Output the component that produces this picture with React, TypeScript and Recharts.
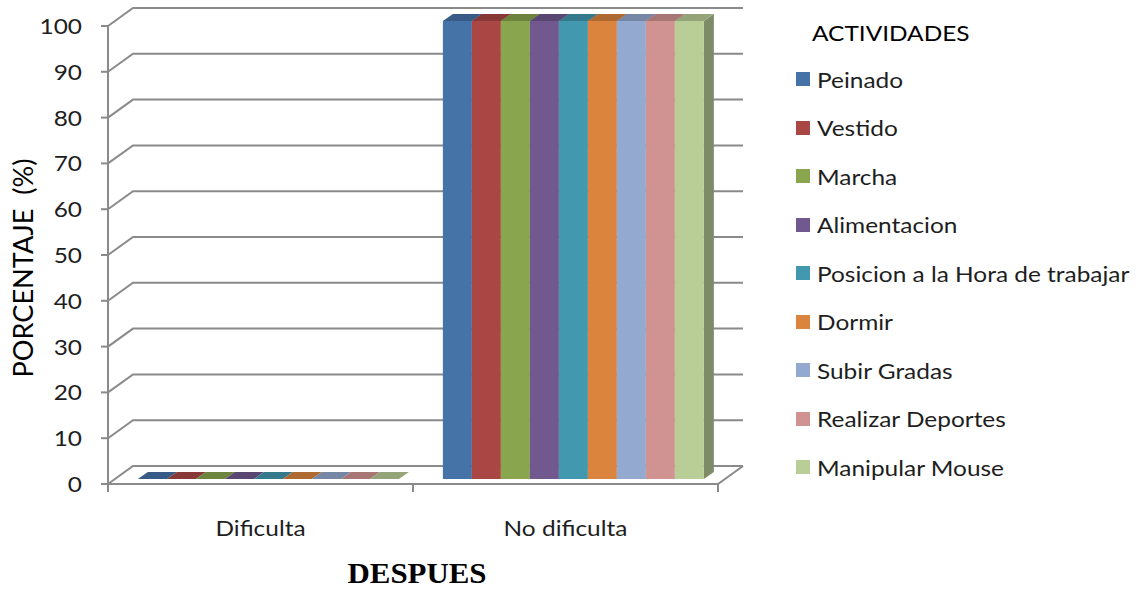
import { BarChart, Bar, XAxis, YAxis, CartesianGrid, Legend, Customized } from 'recharts';

const categories = ['Dificulta', 'No dificulta'];
const activities = [
  'Peinado',
  'Vestido',
  'Marcha',
  'Alimentacion',
  'Posicion a la Hora de trabajar',
  'Dormir',
  'Subir Gradas',
  'Realizar Deportes',
  'Manipular Mouse',
];
const dificulta = [0, 0, 0, 0, 0, 0, 0, 0, 0];
const noDificulta = [100, 100, 100, 100, 100, 100, 100, 100, 100];
const colors = ['#4572A7', '#AA4643', '#89A54E', '#71588F', '#4198AF', '#DB843D', '#93A9CF', '#D19392', '#B9CD96'];
const yTicks = [0, 10, 20, 30, 40, 50, 60, 70, 80, 90, 100];

const seriesByCategory = [dificulta, noDificulta];
const data = categories.map((name, ci) => {
  const row: Record<string, string | number> = { name };
  activities.forEach((a, i) => {
    row[a] = seriesByCategory[ci][i];
  });
  return row;
});

// layout
const W = 1147;
const H = 591;
const MARGIN = { top: 26, right: 429, left: 0, bottom: 0 };
const Y_AXIS_W = 108;
const X_AXIS_H = 107;
const PLOT_BOTTOM = H - MARGIN.bottom - X_AXIS_H;
const PLOT_RIGHT = W - MARGIN.right;
const BAND = (PLOT_RIGHT - (MARGIN.left + Y_AXIS_W)) / categories.length;

// fake 3D: wall depth and bar depth
const DEPTH_X = 25;
const DEPTH_Y = 18;
const BAR_DX = 7;
const BAR_DY = 5;
const BX = 10;
const BY = 7;

const GRID = '#8a8a8a';
const FONT = 'Lato, "Open Sans", sans-serif';
const FONT_SIZE = 22;
const WIDE = 1.11; // text is drawn a little wider than the font's own width
const TEXT = '#1e1e1e';

function shade(hex: string, f: number) {
  const n = parseInt(hex.slice(1), 16);
  const r = Math.round(((n >> 16) & 255) * f);
  const g = Math.round(((n >> 8) & 255) * f);
  const b = Math.round((n & 255) * f);
  return `rgb(${r},${g},${b})`;
}

function Bar3D(props: any) {
  const { x, y, width, height, fill } = props;
  const fx = x + BAR_DX;
  const fy = y - BAR_DY;
  const h = Math.max(0, height);
  const top = `M${fx},${fy} L${fx + BX},${fy - BY} L${fx + width + BX},${fy - BY} L${fx + width},${fy} Z`;
  const side = `M${fx + width},${fy} L${fx + width + BX},${fy - BY} L${fx + width + BX},${fy + h - BY} L${fx + width},${fy + h} Z`;
  return (
    <g>
      <path d={side} fill={shade(fill, 0.68)} />
      <rect x={fx} y={fy} width={width} height={h} fill={fill} />
      <path d={top} fill={shade(fill, 0.8)} />
    </g>
  );
}

function gridLine(p: any) {
  const { x1, x2, y1 } = p;
  const isFloor = Math.abs(y1 - PLOT_BOTTOM) < 1;
  let d = `M${x1},${y1} L${x1 + DEPTH_X},${y1 - DEPTH_Y} L${x2 + DEPTH_X},${y1 - DEPTH_Y}`;
  if (isFloor) d += ` M${x1},${y1} L${x2},${y1} L${x2 + DEPTH_X},${y1 - DEPTH_Y}`;
  return <path key={`grid-${y1}`} d={d} stroke={GRID} strokeWidth={2} fill="none" />;
}

function ValueTick(p: any) {
  const { x, y, payload } = p;
  return (
    <text
      transform={`translate(${x},${y}) scale(${WIDE},1)`}
      dy="0.36em"
      textAnchor="end"
      fontSize={FONT_SIZE}
      fontFamily={FONT}
      fill={TEXT}
    >
      {payload.value}
    </text>
  );
}

function CategoryTick(p: any) {
  const { x, payload, index } = p;
  const half = BAND / 2;
  return (
    <g>
      <line x1={x - half} y1={PLOT_BOTTOM} x2={x - half} y2={PLOT_BOTTOM + 8} stroke={GRID} strokeWidth={2} />
      {index === categories.length - 1 && (
        <line x1={x + half} y1={PLOT_BOTTOM} x2={x + half} y2={PLOT_BOTTOM + 8} stroke={GRID} strokeWidth={2} />
      )}
      <text
        transform={`translate(${x},${PLOT_BOTTOM + 52}) scale(${WIDE},1)`}
        textAnchor="middle"
        fontSize={FONT_SIZE}
        fontFamily={FONT}
        fill={TEXT}
      >
        {payload.value}
      </text>
    </g>
  );
}

function Titles() {
  return (
    <g>
      <text
        transform="translate(33,268) rotate(-90)"
        textAnchor="middle"
        fontSize={27}
        textLength={219}
        lengthAdjust="spacingAndGlyphs"
        fontFamily={FONT}
        fill="#000"
      >
        {'PORCENTAJE\u00a0\u00a0(%)'}
      </text>
      <text
        transform="translate(417,583) scale(1.03,1)"
        textAnchor="middle"
        fontSize={30}
        fontWeight="bold"
        fontFamily='"Liberation Serif", "Times New Roman", serif'
        fill="#000"
      >
        DESPUES
      </text>
    </g>
  );
}

function ActivityLegend() {
  const stretch = { display: 'inline-block', transform: `scaleX(${WIDE})`, transformOrigin: 'left center', whiteSpace: 'nowrap' as const };
  return (
    <div style={{ fontFamily: FONT, color: '#000' }}>
      <div style={{ fontSize: FONT_SIZE, marginLeft: 16, height: 45, lineHeight: '45px' }}>
        <span style={stretch}>ACTIVIDADES</span>
      </div>
      {activities.map((a, i) => (
        <div key={a} style={{ display: 'flex', alignItems: 'center', height: 48.5, fontSize: FONT_SIZE, color: TEXT }}>
          <span style={{ width: 14, height: 14, background: colors[i], marginRight: 7, flex: 'none' }} />
          <span style={stretch}>{a}</span>
        </div>
      ))}
    </div>
  );
}

export default function App() {
  return (
    <div style={{ position: 'absolute', left: 0, top: 0, width: W, height: H, background: '#fff' }}>
      <BarChart width={W} height={H} data={data} margin={MARGIN} barCategoryGap="7.5%" barGap={0}>
        <CartesianGrid vertical={false} horizontal={gridLine} />
        <XAxis dataKey="name" height={X_AXIS_H} axisLine={false} tickLine={false} tick={<CategoryTick />} interval={0} />
        <YAxis
          width={Y_AXIS_W}
          domain={[0, 100]}
          ticks={yTicks}
          interval={0}
          axisLine={{ stroke: GRID, strokeWidth: 2 }}
          tickLine={{ stroke: GRID, strokeWidth: 2 }}
          tickSize={7}
          tickMargin={19}
          tick={<ValueTick />}
        />
        {activities.map((a, i) => (
          <Bar key={a} dataKey={a} fill={colors[i]} shape={<Bar3D />} isAnimationActive={false} />
        ))}
        <Legend
          layout="vertical"
          align="center"
          verticalAlign="middle"
          wrapperStyle={{ left: 796, top: 10, width: 350 }}
          content={<ActivityLegend />}
        />
        <Customized component={<Titles />} />
      </BarChart>
    </div>
  );
}
